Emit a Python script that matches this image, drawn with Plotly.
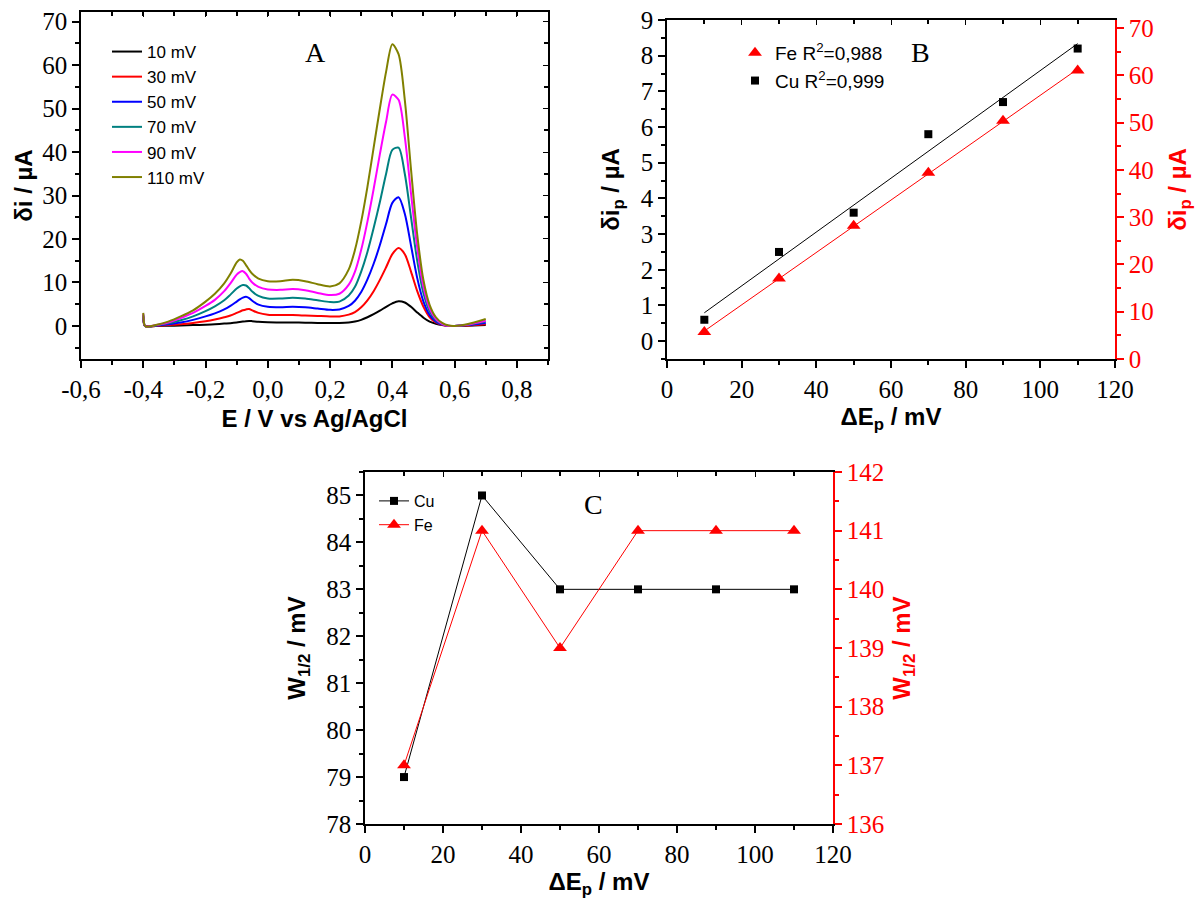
import numpy as np
import plotly.graph_objects as go

# ---------------- Panel A: differential pulse voltammograms ----------------
potential = [-0.400, -0.396, -0.39, -0.36, -0.32, -0.28, -0.24, -0.20, -0.17, -0.14,
             -0.12, -0.10, -0.09, -0.08, -0.07, -0.06, -0.05, -0.03, 0.00, 0.04,
             0.08, 0.12, 0.16, 0.20, 0.23, 0.26, 0.28, 0.30, 0.32, 0.34,
             0.36, 0.38, 0.40, 0.42, 0.44, 0.46, 0.48, 0.50, 0.52, 0.54,
             0.56, 0.58, 0.60, 0.64, 0.70]

i_10mV = [2.0, 0.1, -0.1, 0.0, 0.05, 0.1, 0.2, 0.3, 0.4, 0.55,
          0.65, 0.8, 0.9, 1.0, 1.1, 1.15, 1.1, 0.95, 0.85, 0.8,
          0.8, 0.75, 0.7, 0.7, 0.7, 0.8, 1.0, 1.4, 2.0, 2.7,
          3.5, 4.4, 5.2, 5.7, 5.4, 4.4, 3.1, 1.9, 1.0, 0.5,
          0.2, 0.05, 0.0, 0.05, 0.2]
i_30mV = [2.2, 0.1, -0.1, 0.0, 0.2, 0.4, 0.7, 1.1, 1.5, 2.0,
          2.4, 3.0, 3.3, 3.6, 3.8, 3.9, 3.6, 3.0, 2.6, 2.5,
          2.5, 2.4, 2.3, 2.2, 2.2, 2.6, 3.2, 4.3, 5.9, 8.0,
          10.6, 13.5, 16.5, 17.9, 16.5, 12.5, 8.0, 4.4, 2.0, 0.8,
          0.2, 0.0, 0.0, 0.1, 0.4]
i_50mV = [2.4, 0.1, -0.2, 0.1, 0.4, 0.8, 1.4, 2.2, 2.9, 3.8,
          4.6, 5.6, 6.1, 6.5, 6.7, 6.4, 5.8, 4.9, 4.4, 4.3,
          4.4, 4.3, 4.0, 3.7, 3.8, 4.6, 5.8, 7.8, 10.7, 14.3,
          18.6, 23.5, 28.3, 29.6, 25.8, 18.5, 11.0, 5.6, 2.5, 1.0,
          0.3, 0.0, 0.0, 0.2, 0.7]
i_70mV = [2.6, 0.2, -0.2, 0.1, 0.6, 1.3, 2.2, 3.4, 4.5, 5.9,
          7.2, 8.6, 9.1, 9.4, 9.3, 8.7, 7.9, 6.9, 6.3, 6.3,
          6.5, 6.3, 5.9, 5.5, 5.6, 7.0, 9.0, 12.5, 17.0, 22.5,
          28.5, 35.0, 40.5, 41.0, 35.0, 25.0, 15.0, 7.5, 3.3, 1.3,
          0.4, 0.0, 0.0, 0.2, 1.0]
i_90mV = [2.8, 0.2, -0.2, 0.2, 0.8, 1.8, 3.0, 4.6, 6.0, 8.0,
          9.8, 11.8, 12.4, 12.6, 12.0, 10.9, 10.0, 9.0, 8.4, 8.3,
          8.5, 8.2, 7.6, 7.1, 7.4, 9.5, 12.5, 17.5, 24.0, 31.5,
          39.5, 47.0, 53.2, 52.0, 43.5, 30.5, 18.0, 9.0, 4.0, 1.6,
          0.5, 0.0, 0.0, 0.3, 1.2]
i_110mV = [3.0, 0.2, -0.2, 0.2, 1.0, 2.2, 3.6, 5.6, 7.4, 9.8,
           12.0, 14.6, 15.3, 15.0, 14.0, 12.9, 12.0, 10.9, 10.3, 10.3,
           10.6, 10.3, 9.6, 9.1, 9.8, 13.0, 17.5, 24.0, 32.0, 41.0,
           50.0, 58.5, 64.8, 62.5, 52.0, 36.0, 21.0, 10.5, 4.8, 2.0,
           0.7, 0.1, 0.0, 0.4, 1.6]

amplitude_labels = ["10 mV", "30 mV", "50 mV", "70 mV", "90 mV", "110 mV"]
amplitude_colors = ["#000000", "#FF0000", "#0000FF", "#008080", "#FF00FF", "#808000"]

potential_ticks = [-0.6, -0.4, -0.2, 0.0, 0.2, 0.4, 0.6, 0.8]
potential_ticktext = ["-0,6", "-0,4", "-0,2", "0,0", "0,2", "0,4", "0,6", "0,8"]

# ---------------- Panel B: peak current vs pulse amplitude ----------------
delta_ep = [10, 30, 50, 70, 90, 110]
cu_peak_current = [0.6, 2.5, 3.6, 5.8, 6.7, 8.2]
fe_peak_current = [5.7, 17.0, 28.2, 39.4, 50.4, 61.0]
fe_label = "Fe R<sup>2</sup>=0,988"
cu_label = "Cu R<sup>2</sup>=0,999"

# ---------------- Panel C: half-peak width vs pulse amplitude ----------------
cu_half_width = [79, 85, 83, 83, 83, 83]
fe_half_width = [137, 141, 139, 141, 141, 141]

SERIF = "Liberation Serif, Times New Roman, serif"
SANS = "Liberation Sans, Arial, sans-serif"
TICKFONT = dict(family=SERIF, size=25, color="black")
RED_TICKFONT = dict(family=SERIF, size=25, color="red")
TITLEFONT = dict(family=SANS, size=24, color="black")
RED_TITLEFONT = dict(family=SANS, size=24, color="red")

W, H = 1198, 902


def px_x(a, b):
    return [a / W, b / W]


def px_y(top, bottom):
    return [1 - bottom / H, 1 - top / H]


dom_a_x, dom_a_y = px_x(81, 548), px_y(12, 359)
dom_b_x, dom_b_y = px_x(667, 1115), px_y(20, 359)
dom_c_x, dom_c_y = px_x(365, 833), px_y(472, 824)

fig = go.Figure()

# Panel A curves
for label, color, current in zip(amplitude_labels, amplitude_colors,
                                 [i_10mV, i_30mV, i_50mV, i_70mV, i_90mV, i_110mV]):
    fig.add_trace(go.Scatter(
        x=potential, y=current, mode="lines", name=label,
        line=dict(color=color, width=2, shape="spline", smoothing=0.8),
        xaxis="x", yaxis="y", legend="legend",
    ))

# Panel B: linear fits and measured points
x_fit = np.array([delta_ep[0], delta_ep[-1]], dtype=float)
cu_coef = np.polyfit(delta_ep, cu_peak_current, 1)
fe_coef = np.polyfit(delta_ep, fe_peak_current, 1)
fig.add_trace(go.Scatter(x=x_fit, y=np.polyval(cu_coef, x_fit), mode="lines",
                         line=dict(color="black", width=1), showlegend=False,
                         xaxis="x2", yaxis="y2"))
fig.add_trace(go.Scatter(x=x_fit, y=np.polyval(fe_coef, x_fit), mode="lines",
                         line=dict(color="red", width=1), showlegend=False,
                         xaxis="x2", yaxis="y3"))
fig.add_trace(go.Scatter(x=delta_ep, y=fe_peak_current, mode="markers", name=fe_label,
                         marker=dict(symbol="triangle-up", size=12, color="red"),
                         xaxis="x2", yaxis="y3", legend="legend2"))
fig.add_trace(go.Scatter(x=delta_ep, y=cu_peak_current, mode="markers", name=cu_label,
                         marker=dict(symbol="square", size=8, color="black"),
                         xaxis="x2", yaxis="y2", legend="legend2"))

# Panel C
fig.add_trace(go.Scatter(x=delta_ep, y=cu_half_width, mode="lines+markers", name="Cu",
                         line=dict(color="black", width=1),
                         marker=dict(symbol="square", size=8, color="black"),
                         xaxis="x3", yaxis="y4", legend="legend3"))
fig.add_trace(go.Scatter(x=delta_ep, y=fe_half_width, mode="lines+markers", name="Fe",
                         line=dict(color="red", width=1),
                         marker=dict(symbol="triangle-up", size=12, color="red"),
                         xaxis="x3", yaxis="y5", legend="legend3"))

# empty traces so the mirrored frame axes are drawn
for xa, ya in [("x4", "y"), ("x", "y6"), ("x5", "y2"), ("x6", "y4")]:
    fig.add_trace(go.Scatter(x=[None], y=[None], xaxis=xa, yaxis=ya,
                             showlegend=False, hoverinfo="skip"))


def axis(color="black", **kw):
    base = dict(showline=True, linewidth=1.5, linecolor=color, showgrid=False,
                zeroline=False, ticks="outside", ticklen=7, tickwidth=1.5,
                tickcolor=color, automargin=False)
    base.update(kw)
    return base


def minor(dtick, color="black", ticks="outside"):
    return dict(ticks=ticks, ticklen=4, tickwidth=1.5, tickcolor=color, dtick=dtick, showgrid=False)


def frame(color="black", **kw):
    base = dict(showline=True, linewidth=1.5, linecolor=color, showgrid=False,
                zeroline=False, ticks="inside", ticklen=5, tickwidth=1.2,
                tickcolor=color, showticklabels=False, automargin=False)
    base.update(kw)
    return base


fig.update_layout(
    width=W, height=H, margin=dict(l=0, r=0, t=0, b=0),
    plot_bgcolor="white", paper_bgcolor="white",
    # Panel A axes
    xaxis=axis(domain=dom_a_x, anchor="y", range=[-0.6, 0.9],
               tickvals=potential_ticks, ticktext=potential_ticktext, tickfont=TICKFONT,
               minor=minor(0.1),
               title=dict(text="<b>E / V vs Ag/AgCl</b>", font=TITLEFONT, standoff=8)),
    yaxis=axis(domain=dom_a_y, anchor="x", range=[-7.6, 72.2], tick0=0, dtick=10,
               tickfont=TICKFONT, minor=minor(5),
               title=dict(text="<b>δi / µA</b>", font=TITLEFONT, standoff=3)),
    xaxis4=frame(overlaying="x", anchor="y", side="top", range=[-0.6, 0.9],
                 tickvals=potential_ticks, minor=minor(0.1, ticks="inside")),
    yaxis6=frame(overlaying="y", anchor="x", side="right", range=[-7.6, 72.2],
                 tick0=0, dtick=10, minor=minor(5, ticks="inside")),
    # Panel B axes
    xaxis2=axis(domain=dom_b_x, anchor="y2", range=[0, 120], tick0=0, dtick=20,
                tickfont=TICKFONT, minor=minor(10),
                title=dict(text="<b>ΔE<sub>p</sub> / mV</b>", font=TITLEFONT, standoff=2)),
    yaxis2=axis(domain=dom_b_y, anchor="x2", range=[-0.5, 9], tick0=0, dtick=1,
                tickfont=TICKFONT, minor=minor(0.5),
                title=dict(text="<b>δi<sub>p</sub> / µA</b>", font=TITLEFONT, standoff=14)),
    yaxis3=axis(color="red", overlaying="y2", anchor="x2", side="right",
                range=[0, 71.7], tick0=0, dtick=10, tickfont=RED_TICKFONT,
                minor=minor(5, color="red"),
                title=dict(text="<b>δi<sub>p</sub> / µA</b>", font=RED_TITLEFONT, standoff=16)),
    xaxis5=frame(overlaying="x2", anchor="y2", side="top", range=[0, 120],
                 tick0=0, dtick=20, minor=minor(10, ticks="inside")),
    # Panel C axes
    xaxis3=axis(domain=dom_c_x, anchor="y4", range=[0, 120], tick0=0, dtick=20,
                tickfont=TICKFONT, minor=minor(10),
                title=dict(text="<b>ΔE<sub>p</sub> / mV</b>", font=TITLEFONT, standoff=6)),
    yaxis4=axis(domain=dom_c_y, anchor="x3", range=[78, 85.5], tick0=78, dtick=1,
                tickfont=TICKFONT, minor=minor(0.5),
                title=dict(text="<b>W<sub>1/2</sub> / mV</b>", font=TITLEFONT, standoff=14)),
    yaxis5=axis(color="red", overlaying="y4", anchor="x3", side="right",
                range=[136, 142], tick0=136, dtick=1, tickfont=RED_TICKFONT,
                minor=minor(0.5, color="red"),
                title=dict(text="<b>W<sub>1/2</sub> / mV</b>", font=RED_TITLEFONT, standoff=10)),
    xaxis6=frame(overlaying="x3", anchor="y4", side="top", range=[0, 120],
                 tick0=0, dtick=20, minor=minor(10, ticks="inside")),
    legend=dict(x=107 / W, y=1 - 34 / H, xanchor="left", yanchor="top",
                bgcolor="rgba(0,0,0,0)", font=dict(family=SANS, size=17, color="black"),
                tracegroupgap=0),
    legend2=dict(x=735 / W, y=1 - 34 / H, xanchor="left", yanchor="top",
                 bgcolor="rgba(0,0,0,0)", font=dict(family=SANS, size=19, color="black")),
    legend3=dict(x=374 / W, y=1 - 484 / H, xanchor="left", yanchor="top",
                 bgcolor="rgba(0,0,0,0)", font=dict(family=SANS, size=16, color="black")),
    annotations=[
        dict(text="A", x=0.152, y=62.8, xref="x", yref="y", showarrow=False,
             font=dict(family=SERIF, size=28, color="black")),
        dict(text="B", x=67.8, y=8.1, xref="x2", yref="y2", showarrow=False,
             font=dict(family=SERIF, size=28, color="black")),
        dict(text="C", x=58.5, y=84.8, xref="x3", yref="y4", showarrow=False,
             font=dict(family=SERIF, size=28, color="black")),
    ],
)

fig.write_html("out.html")
